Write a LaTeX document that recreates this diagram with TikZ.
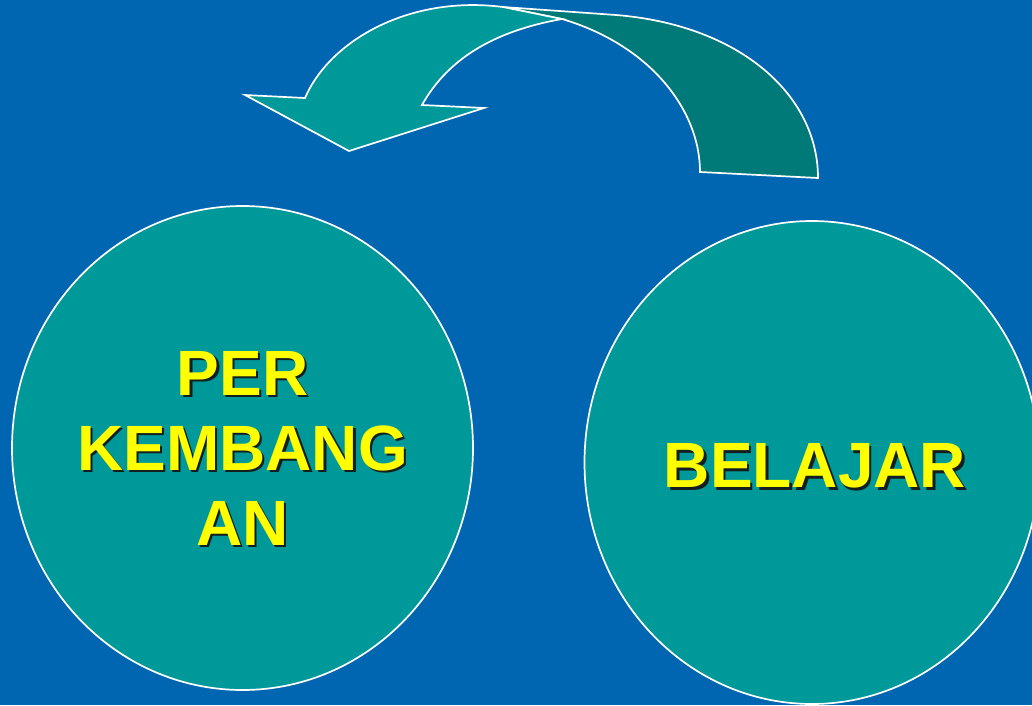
\documentclass[tikz,border=0pt]{standalone}
\usepackage{fontspec}
\setmainfont{Liberation Sans}
\usetikzlibrary{shapes.geometric}
\definecolor{bgblue}{RGB}{0,102,177}
\definecolor{teal1}{RGB}{0,153,153}
\definecolor{teal2}{RGB}{0,122,120}
\definecolor{txtyellow}{RGB}{255,255,0}
\definecolor{shadowcol}{RGB}{20,30,30}
\tikzset{
  bubble/.style={ellipse, draw=white, line width=1.7pt, fill=teal1, inner sep=0pt},
  bigtext/.style={font=\bfseries\fontsize{64}{75}\selectfont, align=center, inner sep=0pt, text=txtyellow},
  shadowtext/.style={bigtext, text=shadowcol},
  arrowpart/.style={draw=white, line width=1.7pt, line join=miter},
}
\begin{document}
\begin{tikzpicture}[x=1pt,y=-1pt]
\fill[bgblue] (0,0) rectangle (1032,705);
\useasboundingbox (0,0) rectangle (1032,705);
% circles
\node[bubble, minimum width=461pt, minimum height=484pt] (dev) at (242.5,448) {};
\node[bubble, minimum width=455pt, minimum height=483pt] (learn) at (812,462.5) {};
% texts
\node[shadowtext] (devs) at ([xshift=2.5pt,yshift=-2.5pt]dev.center) {PER\\KEMBANG\\AN};
\node[bigtext] (devt) at (dev.center) {PER\\KEMBANG\\AN};
\node[shadowtext] (learns) at (817.5,468.5) {BELAJAR};
\node[bigtext] (learnt) at (815,466) {BELAJAR};
% curved arrow: dark back part
\coordinate (j1) at (503,7);
\coordinate (j2) at (562,19);
\draw[arrowpart, fill=teal2] (j1) -- (616,15)
  .. controls (740,25) and (818,95) .. (818,178)
  -- (700,172)
  .. controls (700,110) and (650,45) .. (j2) -- cycle;
% curved arrow: light front part
\draw[arrowpart, fill=teal1] (245,95) -- (349,151) -- (484,108) -- (422,105)
  .. controls (450,55) and (500,30) .. (j2)
  -- (j1)
  .. controls (410,-5) and (330,40) .. (305,98) -- cycle;
\end{tikzpicture}
\end{document}
